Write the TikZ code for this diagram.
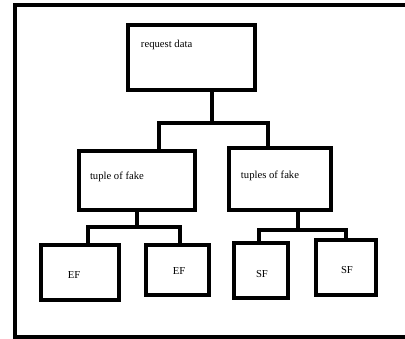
\documentclass[tikz,border=0pt]{standalone}
\usepackage{fontspec}
\setmainfont{Liberation Serif}
\usepackage{tikz}

\begin{document}
\begin{tikzpicture}[x=0.75pt,y=-0.75pt,line width=3pt,
                    box/.style={draw,rectangle,inner sep=0pt},
                    wire/.style={line width=3pt,line join=miter},
                    lbl/.style={inner sep=0pt,font=\fontsize{8}{9.6}\selectfont}]
  \useasboundingbox (0,0) rectangle (405,339);

  % frame, open on the right
  \draw[line width=2.4pt] (405,5) -- (15,5) -- (15,337) -- (405,337);

  \node[box,minimum width=95.25pt,minimum height=48.75pt] (req) at (191.5,57.5) {};
  \node[box,minimum width=87pt,minimum height=44.25pt]    (tl)  at (137,180.5)  {};
  \node[box,minimum width=76.5pt,minimum height=46.5pt]   (tr)  at (280,179)    {};
  \node[box,minimum width=58.5pt,minimum height=41.25pt,line width=3.6pt] (ef1) at (80,272.5)  {};
  \node[box,minimum width=47.25pt,minimum height=37.5pt,line width=3.6pt] (ef2) at (177.5,270) {};
  \node[box,minimum width=40.5pt,minimum height=41.25pt,line width=3.6pt] (sf1) at (261,270.5) {};
  \node[box,minimum width=45pt,minimum height=41.25pt,line width=3.6pt]   (sf2) at (346,267.5) {};

  \node[lbl,anchor=west] (req-t) at (139,45)  {request data};
  \node[lbl,anchor=west] (tl-t)  at (88,177)  {tuple of fake};
  \node[lbl,anchor=west] (tr-t)  at (239,176) {tuples of fake};
  \node[lbl] (ef1-t) at (74,275)  {EF};
  \node[lbl] (ef2-t) at (179,271) {EF};
  \node[lbl] (sf1-t) at (262,274) {SF};
  \node[lbl] (sf2-t) at (347,270) {SF};

  % junctions
  \coordinate (m1) at (212,123);
  \coordinate (a1) at (159,123);
  \coordinate (a2) at (268,123);
  \coordinate (m2) at (137,227);
  \coordinate (b1) at (88,227);
  \coordinate (b2) at (180,227);
  \coordinate (m3) at (298,230);
  \coordinate (c1) at (259,230);
  \coordinate (c2) at (346,230);

  \draw[wire] (m1 |- req.south) -- (m1);
  \draw[wire] (tl.north -| a1) -- (a1) -- (a2) -- (tr.north -| a2);
  \draw[wire] (m2 |- tl.south) -- (m2);
  \draw[wire] (ef1.north -| b1) -- (b1) -- (b2) -- (ef2.north -| b2);
  \draw[wire] (m3 |- tr.south) -- (m3);
  \draw[wire] (sf1.north -| c1) -- (c1) -- (c2) -- (sf2.north -| c2);
\end{tikzpicture}
\end{document}
